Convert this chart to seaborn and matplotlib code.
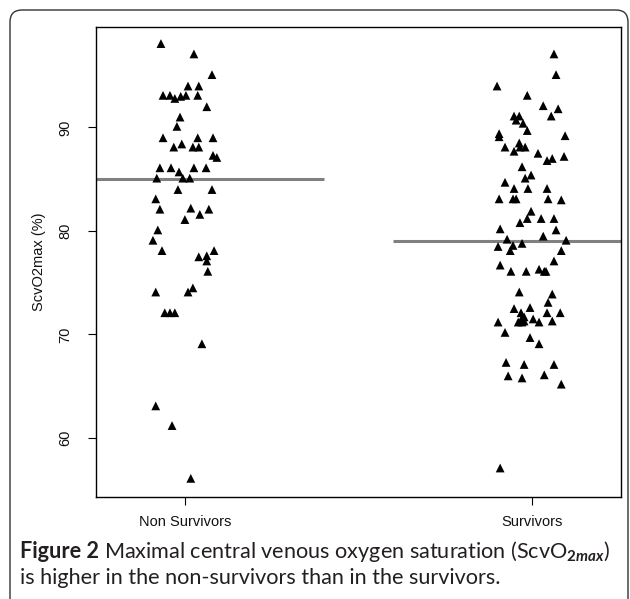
import numpy as np
import pandas as pd
import matplotlib
matplotlib.use("Agg")
import matplotlib.pyplot as plt
import seaborn as sns
from matplotlib.patches import FancyBboxPatch

# =====================
# DATA
# =====================
groups = ["Non Survivors", "Survivors"]

non_surv_values = [98.1, 97.1, 95.1, 94.0, 94.0, 93.1, 93.1, 92.8, 93.0, 93.1,
                   93.1, 92.0, 91.0, 90.1, 89.0, 89.0, 89.0, 88.4, 88.1, 88.1,
                   88.1, 87.3, 87.1, 86.1, 86.1, 85.7, 86.1, 86.1, 85.1, 85.1,
                   85.1, 84.0, 84.0, 83.1, 82.1, 82.2, 82.1, 81.6, 81.1, 80.1,
                   79.1, 78.1, 78.1, 77.6, 77.5, 77.1, 76.1, 74.1, 74.1, 74.5,
                   72.1, 72.1, 72.1, 69.1, 63.1, 61.2, 56.1]
non_surv_jitter = [-0.069, 0.026, 0.078, 0.009, 0.040, -0.063, -0.043, -0.029, -0.012, 0.003,
                   0.037, 0.063, -0.014, -0.023, -0.063, 0.037, 0.081, -0.009, -0.032, 0.023,
                   0.040, 0.081, 0.092, -0.072, -0.040, -0.017, 0.026, 0.061, -0.081, -0.006,
                   0.014, -0.020, 0.078, -0.084, -0.072, 0.017, 0.069, 0.043, 0.000, -0.078,
                   -0.092, -0.066, 0.084, 0.063, 0.040, 0.063, 0.066, -0.084, 0.009, 0.023,
                   -0.058, -0.043, -0.029, 0.049, -0.084, -0.037, 0.017]

surv_values = [97.1, 95.1, 94.0, 93.1, 92.1, 91.8, 91.1, 91.1, 91.1, 90.7,
               90.4, 89.7, 89.4, 89.1, 89.2, 88.1, 88.5, 88.1, 88.1, 87.7,
               87.5, 86.8, 87.0, 87.2, 86.2, 85.1, 85.4, 84.7, 84.1, 84.1,
               84.1, 83.1, 83.1, 83.1, 83.1, 83.0, 81.9, 81.2, 81.2, 81.2,
               80.8, 80.2, 80.1, 79.5, 79.2, 79.1, 78.8, 78.5, 78.6, 78.1,
               78.1, 77.1, 76.7, 76.1, 76.1, 76.1, 76.1, 76.3, 74.1, 73.9,
               73.1, 72.5, 72.6, 72.1, 72.1, 72.1, 71.7, 71.5, 71.3, 71.2,
               71.2, 71.2, 71.2, 71.4, 71.3, 70.2, 69.7, 69.1, 67.3, 67.1,
               67.1, 66.0, 65.8, 66.1, 65.2, 57.1]
surv_jitter = [0.063, 0.069, -0.101, -0.014, 0.032, 0.075, 0.055, -0.052, -0.037, -0.046,
               -0.026, -0.014, -0.095, -0.095, 0.095, -0.078, -0.037, -0.035, -0.020, -0.052,
               0.017, 0.043, 0.058, 0.092, -0.029, -0.020, -0.003, -0.078, -0.052, -0.012,
               0.043, -0.095, -0.055, -0.046, 0.046, 0.084, -0.003, -0.014, 0.026, 0.063,
               -0.035, -0.092, 0.069, 0.032, -0.072, 0.098, -0.029, -0.098, -0.055, -0.063,
               0.084, 0.063, -0.092, -0.061, -0.017, 0.035, 0.040, 0.020, -0.037, 0.058,
               0.046, -0.052, -0.006, -0.032, 0.043, 0.081, -0.023, 0.003, 0.058, -0.098,
               -0.040, -0.029, 0.020, -0.032, -0.023, -0.078, -0.006, 0.020, -0.075, -0.023,
               0.063, -0.069, -0.029, 0.035, 0.084, -0.092]

# median lines
median_values = [85.0, 79.0]

yticks = [60, 70, 80, 90]

# =====================
# BUILD TABLE
# =====================
df = pd.DataFrame({
    "group": [groups[0]] * len(non_surv_values) + [groups[1]] * len(surv_values),
    "value": non_surv_values + surv_values,
    "jitter": non_surv_jitter + surv_jitter,
})
df["pos"] = df["group"].map({g: i + 1 for i, g in enumerate(groups)}) + df["jitter"]

# =====================
# PLOT
# =====================
sns.set_style("white")
plt.rcParams["font.family"] = ["Liberation Sans", "DejaVu Sans"]

fig = plt.figure(figsize=(6.30, 5.99), dpi=100)
ax = fig.add_axes([0.1524, 0.1703, 0.8333, 0.7846])

sns.scatterplot(data=df, x="pos", y="value", marker="^", color="black",
                s=40, edgecolor="none", linewidth=0, ax=ax, zorder=3)

for i, m in enumerate(median_values):
    ax.plot([i + 1 - 0.4, i + 1 + 0.4], [m, m], color="#808080", lw=2.2,
            solid_capstyle="butt", zorder=2)

ax.set_xlim(0.744, 2.256)
ax.set_ylim(54.3, 99.7)
ax.set_xticks([1, 2])
ax.set_xticklabels(groups)
ax.set_yticks(yticks)
ax.set_yticklabels([str(t) for t in yticks], rotation=90, va="center")
ax.tick_params(axis="both", direction="out", length=6, width=0.8, color="black",
               labelsize=10.5, labelcolor="#111111", left=True, bottom=True)
ax.tick_params(axis="y", pad=11)
ax.tick_params(axis="x", pad=7)
ax.set_xlabel("")
ax.set_ylabel("ScvO2max (%)", fontsize=10.5, labelpad=9, color="#111111")
for sp in ax.spines.values():
    sp.set_visible(True)
    sp.set_color("black")
    sp.set_linewidth(1.0)

# outer rounded frame
frame = FancyBboxPatch((10, -40), 618, 629, boxstyle="round,pad=0,rounding_size=12",
                       transform=None, fill=False, edgecolor="#333333", lw=1.0)
fig.add_artist(frame)

# caption
cap_font = ["Lato", "DejaVu Sans"]
cap_size = 15.6
plt.rcParams["mathtext.fontset"] = "custom"
plt.rcParams["mathtext.rm"] = "Lato"
plt.rcParams["mathtext.it"] = "Lato:italic:bold"
plt.rcParams["mathtext.bf"] = "Lato:bold"
t1 = fig.text(20 / 630, 1 - 558 / 599, "Figure 2", fontsize=cap_size, fontweight="bold",
              family=cap_font, color="#231f20", va="baseline")
fig.canvas.draw()
bb = t1.get_window_extent()
fig.text((bb.x1 + 5) / 630, 1 - 558 / 599,
         r"Maximal central venous oxygen saturation (ScvO$_{\mathbf{2}\mathit{max}}$)",
         fontsize=cap_size, family=cap_font, color="#231f20", va="baseline")
fig.text(20 / 630, 1 - 584 / 599, "is higher in the non-survivors than in the survivors.",
         fontsize=cap_size, family=cap_font, color="#231f20", va="baseline")

plt.savefig("out.png", dpi=100)
plt.close()
